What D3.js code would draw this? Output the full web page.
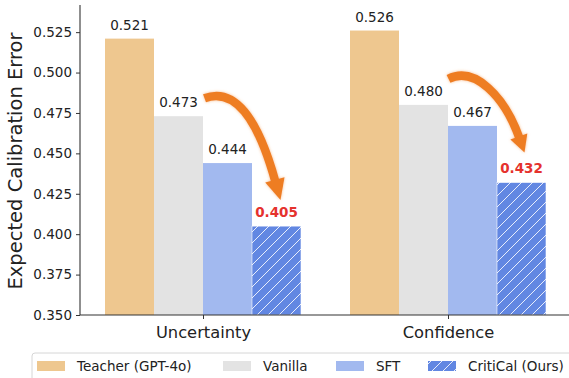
<!DOCTYPE html>
<html><head><meta charset="utf-8">
<script src="https://cdn.jsdelivr.net/npm/d3@7"></script>
<style>
html,body{margin:0;padding:0;background:#fff;}
text{font-family:"DejaVu Sans",sans-serif;}
</style></head>
<body>
<svg id="chart" width="569" height="378"></svg>
<script>
// ---- data ----
const categories = ["Uncertainty", "Confidence"];
const seriesNames = ["Teacher (GPT-4o)", "Vanilla", "SFT", "CritiCal (Ours)"];
const teacherValues = [0.521, 0.526];
const vanillaValues = [0.473, 0.480];
const sftValues = [0.444, 0.467];
const criticalValues = [0.405, 0.432];
const yTicks = [0.350, 0.375, 0.400, 0.425, 0.450, 0.475, 0.500, 0.525];

const series = [teacherValues, vanillaValues, sftValues, criticalValues];
const colors = ["#eec78f", "#e3e3e3", "#a2b9ef", "#6287e2"];

const svg = d3.select("#chart");

// scales
const x = d3.scaleLinear().domain([0, 1]).range([203, 448]);
const y = d3.scaleLinear().domain([0.35, 0.5418]).range([315, 5]);
const barW = x(0.2) - x(0);
const off = [-1.5, -0.5, 0.5, 1.5];

// hatch pattern
const defs = svg.append("defs");
const pat = defs.append("pattern").attr("id", "hatch")
  .attr("patternUnits", "userSpaceOnUse").attr("width", 11).attr("height", 11);
pat.append("rect").attr("width", 11).attr("height", 11).attr("fill", colors[3]);
pat.append("path").attr("d", "M-2,2 L2,-2 M0,11 L11,0 M9,13 L13,9")
  .attr("stroke", "#ffffff").attr("stroke-width", 1).attr("stroke-opacity", 0.85);

const glow = defs.append("filter").attr("id", "glow")
  .attr("x", "-30%").attr("y", "-30%").attr("width", "160%").attr("height", "160%");
glow.append("feGaussianBlur").attr("in", "SourceAlpha").attr("stdDeviation", 1.5).attr("result", "b");
glow.append("feFlood").attr("flood-color", "#f4a25e").attr("flood-opacity", 0.7);
glow.append("feComposite").attr("in2", "b").attr("operator", "in").attr("result", "g");
const mg = glow.append("feMerge");
mg.append("feMergeNode").attr("in", "g");
mg.append("feMergeNode").attr("in", "SourceGraphic");

// bars
series.forEach((vals, s) => {
  svg.append("g").selectAll("rect").data(vals).join("rect")
    .attr("x", (d, i) => x(i) + off[s] * barW - barW / 2)
    .attr("width", barW)
    .attr("y", d => y(d))
    .attr("height", d => y(0.35) - y(d))
    .attr("fill", s === 3 ? "url(#hatch)" : colors[s])
    .attr("stroke", s === 3 ? "#ffffff" : "none")
    .attr("stroke-width", s === 3 ? 0.6 : 0);
  svg.append("g").selectAll("text").data(vals).join("text")
    .attr("x", (d, i) => x(i) + off[s] * barW)
    .attr("y", d => y(d) - 9)
    .attr("text-anchor", "middle")
    .attr("font-size", "13.5px")
    .attr("font-weight", s === 3 ? "bold" : "normal")
    .attr("fill", s === 3 ? "#e5322d" : "#222")
    .text(d => d.toFixed(3));
});

// axes
const yAxis = d3.axisLeft(y).tickValues(yTicks).tickFormat(d3.format(".3f")).tickSize(4).tickPadding(4);
const gy = svg.append("g").attr("transform", "translate(80,0)").call(yAxis);
gy.select(".domain").attr("d", "M0,5V315").attr("stroke", "#333").attr("stroke-width", 1.1);
gy.selectAll(".tick line").attr("stroke", "#333");
gy.selectAll(".tick text").attr("font-size", "13.5px").attr("fill", "#222")
  .attr("font-family", "DejaVu Sans, sans-serif");

const xAxis = d3.axisBottom(x).tickValues([0, 1]).tickFormat((d) => categories[d]).tickSize(4).tickPadding(7);
const gx = svg.append("g").attr("transform", "translate(0,315)").call(xAxis);
gx.select(".domain").attr("d", "M80,0H569").attr("stroke", "#333").attr("stroke-width", 1.1);
gx.selectAll(".tick line").attr("stroke", "#333");
gx.selectAll(".tick text").attr("font-size", "16.3px").attr("fill", "#222")
  .attr("font-family", "DejaVu Sans, sans-serif");

svg.append("text")
  .attr("transform", "translate(22,161) rotate(-90)")
  .attr("text-anchor", "middle")
  .attr("font-size", "19.5px").attr("fill", "#222")
  .text("Expected Calibration Error");

// arrows (positioned relative to the Vanilla and CritiCal bars)
const arrowSpecs = [
  {g: 0, sx: 26, sy: -18, tx: 4, ty: -26, c1: [30, -11], c2: [53, 19], head: 21, hw: 10},
  {g: 1, sx: 25, sy: -26, tx: 3, ty: -30, c1: [26, -13], c2: [56, 17], head: 17, hw: 9}
];
arrowSpecs.forEach(a => {
  const sx = x(a.g) + off[1] * barW + a.sx, sy = y(vanillaValues[a.g]) + a.sy;
  const tx = x(a.g) + off[3] * barW + a.tx, ty = y(criticalValues[a.g]) + a.ty;
  const c1 = [sx + a.c1[0], sy + a.c1[1]];
  const c2 = [sx + a.c2[0], sy + a.c2[1]];
  const dx = tx - c2[0], dy = ty - c2[1];
  const len = Math.hypot(dx, dy), ux = dx / len, uy = dy / len;
  const bx = tx - ux * a.head, by = ty - uy * a.head;
  const px = -uy, py = ux;
  const g = svg.append("g").attr("filter", "url(#glow)");
  const p = d3.path();
  p.moveTo(sx, sy);
  p.bezierCurveTo(c1[0], c1[1], c2[0], c2[1], bx + ux * 2, by + uy * 2);
  g.append("path").attr("d", p.toString()).attr("fill", "none")
    .attr("stroke", "#ee7d24").attr("stroke-width", 8.5).attr("stroke-linecap", "butt");
  g.append("polygon")
    .attr("points", [[bx + px * a.hw, by + py * a.hw], [tx, ty], [bx - px * a.hw, by - py * a.hw]].map(q => q.join(",")).join(" "))
    .attr("fill", "#ee7d24");
});

// legend
const lg = svg.append("g");
lg.append("rect").attr("x", 32).attr("y", 353).attr("width", 560).attr("height", 40)
  .attr("rx", 3).attr("fill", "#fff").attr("stroke", "#d6d6d6").attr("stroke-width", 1);
const legX = [37, 223, 336, 428];
seriesNames.forEach((name, i) => {
  lg.append("rect").attr("x", legX[i]).attr("y", 361).attr("width", 28).attr("height", 10)
    .attr("fill", i === 3 ? "url(#hatch)" : colors[i]);
  lg.append("text").attr("x", legX[i] + 40).attr("y", 371)
    .attr("font-size", "13.5px").attr("fill", "#222").text(name);
});
</script>
</body></html>
